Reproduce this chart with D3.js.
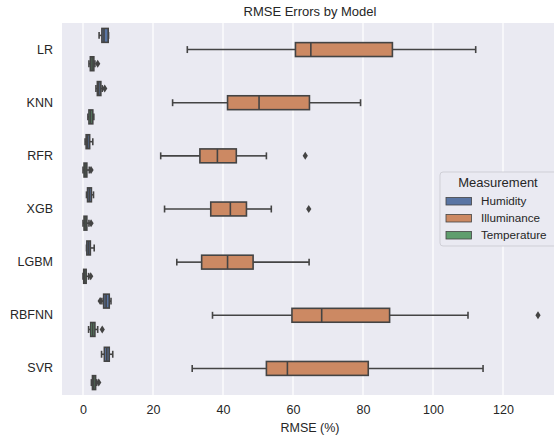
<!DOCTYPE html>
<html lang="en">
<head>
<meta charset="utf-8">
<title>RMSE Errors by Model</title>
<script src="https://cdn.jsdelivr.net/npm/d3@7"></script>
<style>
  body { margin: 0; background: #fff; }
  svg { display: block; font-family: "Liberation Sans", Arial, sans-serif; }
  .tick text { fill: #262626; font-size: 12.5px; }
  .axis path, .axis line { display: none; }
</style>
</head>
<body>
<svg id="chart" width="554" height="440"></svg>
<script>
// models on the y axis, top to bottom
var models = ["LR", "KNN", "RFR", "XGB", "LGBM", "RBFNN", "SVR"];
var measurements = ["Humidity", "Illuminance", "Temperature"];
var xTicks = [0, 20, 40, 60, 80, 100, 120];

// box stats per model: [lower whisker, q1, median, q3, upper whisker]
var humidityStats = [
  [4.6, 5.4, 6.0, 7.2, 7.3],
  [3.7, 4.1, 4.5, 5.1, 5.5],
  [0.6, 0.9, 1.3, 1.9, 2.8],
  [1.0, 1.3, 1.8, 2.4, 3.0],
  [1.0, 1.1, 1.6, 2.1, 3.2],
  [5.4, 5.9, 6.6, 7.5, 8.0],
  [5.3, 6.1, 6.8, 7.5, 8.5]
];
var humidityOutliers = [[], [6.2], [], [], [], [4.9], []];

var illuminanceStats = [
  [29.8, 60.7, 65.1, 88.4, 112.2],
  [25.6, 41.3, 50.3, 64.7, 79.3],
  [22.2, 33.4, 38.4, 43.8, 52.4],
  [23.3, 36.5, 42.1, 46.7, 53.8],
  [26.8, 33.9, 41.3, 48.6, 64.6],
  [37.0, 59.7, 68.2, 87.6, 110.0],
  [31.2, 52.4, 58.4, 81.5, 114.3]
];
var illuminanceOutliers = [[], [], [63.5], [64.5], [], [130.0], []];

var temperatureStats = [
  [1.7, 2.1, 2.6, 3.1, 3.4],
  [1.4, 1.7, 2.2, 2.8, 3.1],
  [0.0, 0.3, 0.6, 1.1, 1.8],
  [0.0, 0.3, 0.6, 1.1, 1.7],
  [0.0, 0.2, 0.5, 0.9, 1.6],
  [1.6, 2.2, 2.8, 3.4, 4.2],
  [2.4, 2.7, 3.1, 3.6, 3.9]
];
var temperatureOutliers = [[4.2], [], [2.3], [2.3], [2.2], [5.5], [4.5]];

var colors = ["#5975a4", "#cc8963", "#5f9e6e"];
var edge = "#444444";

var svg = d3.select("#chart"),
    margin = {top: 23, right: 0, bottom: 45, left: 62},
    height = +svg.attr("height") - margin.top - margin.bottom;

var x = d3.scaleLinear().domain([-6, 136.3]).range([margin.left, margin.left + 142.3 * 3.5]);
var y = d3.scaleBand().domain(models).range([margin.top, margin.top + height]).padding(0);
var hue = d3.scaleBand().domain(measurements)
    .range([-0.4 * y.bandwidth(), 0.4 * y.bandwidth()]);

// background
svg.append("rect")
    .attr("x", margin.left).attr("y", margin.top)
    .attr("width", 554 - margin.left).attr("height", height)
    .attr("fill", "#eaeaf2");

// grid
svg.append("g").selectAll("line")
  .data(xTicks)
  .join("line")
    .attr("x1", d => x(d)).attr("x2", d => x(d))
    .attr("y1", margin.top).attr("y2", margin.top + height)
    .attr("stroke", "#fff").attr("stroke-width", 1.2);

// axes
svg.append("g")
    .attr("class", "axis")
    .attr("transform", "translate(0," + (margin.top + height) + ")")
    .call(d3.axisBottom(x).tickValues(xTicks).tickSize(0).tickPadding(10));

svg.append("g")
    .attr("class", "axis")
    .attr("transform", "translate(" + margin.left + ",0)")
    .call(d3.axisLeft(y).tickSize(0).tickPadding(9));

svg.append("text")
    .attr("x", 310).attr("y", 432)
    .attr("text-anchor", "middle")
    .style("font-size", "12.5px").style("fill", "#262626")
    .text("RMSE (%)");

svg.append("text")
    .attr("x", 310).attr("y", 16)
    .attr("text-anchor", "middle")
    .style("font-size", "13px").style("fill", "#262626")
    .text("RMSE Errors by Model");

// boxes
var allStats = [humidityStats, illuminanceStats, temperatureStats];
var allOutliers = [humidityOutliers, illuminanceOutliers, temperatureOutliers];
var boxH = hue.bandwidth() * 0.98;
var capH = boxH / 2;

measurements.forEach(function(m, k) {
  var grp = svg.append("g");
  models.forEach(function(model, i) {
    var s = allStats[k][i];
    var cy = y(model) + y.bandwidth() / 2 + hue(m) + hue.bandwidth() / 2;
    var g = grp.append("g").attr("stroke", edge).attr("stroke-width", 1.6);
    // whiskers
    g.append("line").attr("x1", x(s[0])).attr("x2", x(s[1])).attr("y1", cy).attr("y2", cy);
    g.append("line").attr("x1", x(s[3])).attr("x2", x(s[4])).attr("y1", cy).attr("y2", cy);
    // caps
    g.append("line").attr("x1", x(s[0])).attr("x2", x(s[0])).attr("y1", cy - capH / 2).attr("y2", cy + capH / 2);
    g.append("line").attr("x1", x(s[4])).attr("x2", x(s[4])).attr("y1", cy - capH / 2).attr("y2", cy + capH / 2);
    // box
    g.append("rect")
        .attr("x", x(s[1])).attr("y", cy - boxH / 2)
        .attr("width", x(s[3]) - x(s[1])).attr("height", boxH)
        .attr("fill", colors[k]);
    // median
    g.append("line").attr("x1", x(s[2])).attr("x2", x(s[2])).attr("y1", cy - boxH / 2).attr("y2", cy + boxH / 2);
    // outliers
    g.selectAll("path.flier")
      .data(allOutliers[k][i])
      .join("path")
        .attr("class", "flier")
        .attr("d", d => "M" + x(d) + "," + (cy - 4) + "L" + (x(d) + 2.6) + "," + cy +
                        "L" + x(d) + "," + (cy + 4) + "L" + (x(d) - 2.6) + "," + cy + "Z")
        .attr("fill", edge).attr("stroke", "none");
  });
});

// legend
var legend = svg.append("g").attr("transform", "translate(440,172)");
legend.append("rect")
    .attr("width", 120).attr("height", 74).attr("rx", 3)
    .attr("fill", "#eaeaf2").attr("stroke", "#cfcfd6");
legend.append("text")
    .attr("x", 58).attr("y", 15)
    .attr("text-anchor", "middle")
    .style("font-size", "13px").style("fill", "#262626")
    .text("Measurement");
measurements.forEach(function(m, k) {
  var ly = 29 + k * 17;
  legend.append("rect")
      .attr("x", 6).attr("y", ly - 3.5).attr("width", 25.5).attr("height", 7.5)
      .attr("fill", colors[k]).attr("stroke", edge).attr("stroke-width", 0.8);
  legend.append("text")
      .attr("x", 41).attr("y", ly + 4)
      .style("font-size", "11.7px").style("fill", "#262626")
      .text(m);
});
</script>
</body>
</html>
